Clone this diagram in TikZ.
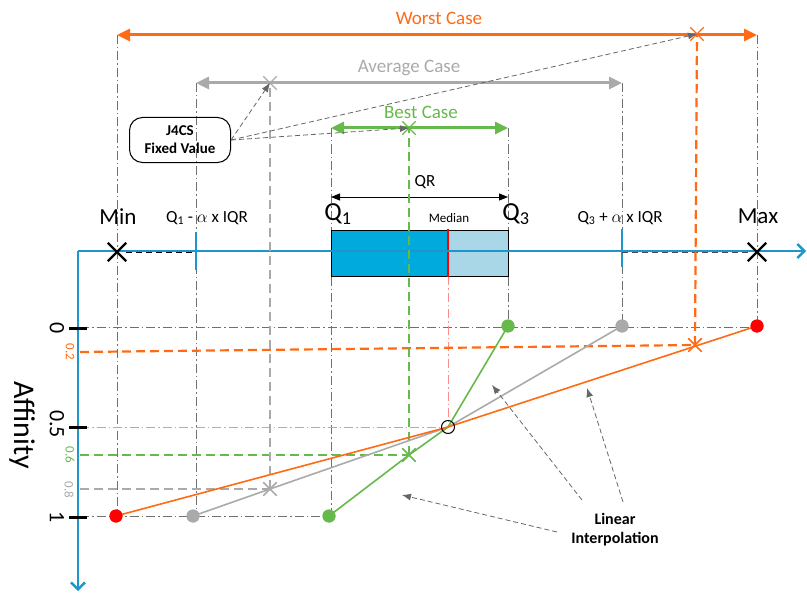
\documentclass[tikz,border=0pt]{standalone}
\usepackage{fontspec}
\setmainfont{Carlito}
\usetikzlibrary{arrows.meta,shapes.misc}
\definecolor{axblue}{HTML}{1E96CC}
\definecolor{boxdark}{HTML}{00AADD}
\definecolor{boxlight}{HTML}{A9D7E8}
\definecolor{worstc}{HTML}{FF6A13}
\definecolor{avgc}{HTML}{AAAAAA}
\definecolor{bestc}{HTML}{66B94A}
\definecolor{gridc}{HTML}{707070}
\newcommand{\fs}[1]{\fontsize{#1}{#1}\selectfont}
\begin{document}
\begin{tikzpicture}[x=1pt,y=-1pt,
  gridline/.style={gridc, line width=0.8pt, dash pattern=on 9pt off 3pt on 1.5pt off 3pt},
  redgrid/.style={red!45, line width=0.8pt, dash pattern=on 9pt off 3pt on 1.5pt off 3pt},
  casearrow/.style={line width=3pt, {Triangle[length=13pt,width=12pt]}-{Triangle[length=13pt,width=12pt]}},
  proj/.style={line width=2.2pt, dash pattern=on 9pt off 5pt},
  xmark/.style={cross out, draw, minimum size=12pt, inner sep=0pt, line width=1.3pt},
  bigx/.style={cross out, draw=black, minimum size=16pt, inner sep=0pt, line width=2.4pt},
  dot/.style={circle, inner sep=0pt, minimum size=13pt},
  interp/.style={line width=1.6pt},
  note/.style={gray!80!black, line width=0.8pt, dash pattern=on 5pt off 3pt, -{Latex[length=9pt,width=7pt]}},
  axis/.style={axblue, line width=2.4pt},
  tickm/.style={black, line width=3pt}
]
\useasboundingbox (0,0) rectangle (807,594);

% ---- key coordinates
\coordinate (wL) at (117,35);  \coordinate (wR) at (757,35);
\coordinate (aL) at (196,83);  \coordinate (aR) at (622,83);
\coordinate (bL) at (331,128); \coordinate (bR) at (508,128);
\coordinate (origin) at (78,251);
\coordinate (xend) at (806,251);
\coordinate (yend) at (78,591);

% ---- grid (dash-dot)
\coordinate (g0L) at (80,327); \coordinate (g1L) at (80,516); \coordinate (g5L) at (80,427);
\draw[gridline] (wL) -- (117,516);
\draw[gridline] (aL) -- (196,516);
\draw[gridline] (bL) -- (331,516);
\draw[gridline] (bR) -- (508,327);
\draw[gridline] (aR) -- (622,327);
\draw[gridline] (wR) -- (757,327);
\draw[gridline] (g0L) -- (757,327);
\draw[gridline] (g1L) -- (331,516);
\draw[redgrid] (g5L) -- (448,427);
\draw[redgrid] (448,276) -- (448,427);

% ---- box plot
\fill[boxdark] (331,230) rectangle (448,276);
\fill[boxlight] (448,230) rectangle (508,276);
\draw[black, line width=0.8pt] (331,230) rectangle (508,276);
\draw[red, line width=2pt] (448,229) -- (448,277);

% ---- axes
\draw[axis, -{Straight Barb[length=7pt,width=14pt]}] (origin) -- (xend);
\draw[axis, -{Straight Barb[length=7pt,width=14pt]}] (origin) -- (yend);
\draw[axblue, line width=2pt] (196,232) -- (196,270);
\draw[axblue, line width=2pt] (622,229) -- (622,267);

% ---- min / max markers
\node[bigx] (minx) at (117,252) {};
\node[bigx] (maxx) at (757,252) {};
\coordinate (loT) at (196,252); \coordinate (hiT) at (622,252);
\draw[black, line width=1pt, dash pattern=on 6pt off 4pt] (minx) -- (loT);
\draw[black!70, line width=1pt, dash pattern=on 6pt off 4pt] (hiT) -- (maxx);

% ---- top case arrows
\draw[worstc, casearrow] (wL) -- (wR);
\draw[avgc, casearrow] (aL) -- (aR);
\draw[bestc, casearrow] (bL) -- (bR);
\draw[black, line width=0.9pt, {Triangle[length=9pt,width=7pt]}-{Triangle[length=9pt,width=7pt]}] (331,197) -- (508,197);

% ---- crosses
\node[xmark, draw=worstc] (wX) at (697,34) {};
\node[xmark, draw=avgc] (aX) at (270,83) {};
\node[xmark, draw=bestc] (bX) at (409,128) {};
\node[xmark, draw=worstc] (wX2) at (695,345) {};
\node[xmark, draw=bestc] (bX2) at (409,455) {};
\node[xmark, draw=avgc] (aX2) at (270,489) {};

% ---- projections (dashed)
\coordinate (w2L) at (80,352); \coordinate (b2L) at (80,455); \coordinate (a2L) at (80,489);
\draw[worstc, proj] (w2L) -- (wX2.center);
\draw[worstc, proj] (wX2.center) -- (wX.center);
\draw[bestc, proj] (b2L) -- (bX2.center);
\draw[bestc, proj] (bX2.center) -- (bX.center);
\draw[avgc, proj] (a2L) -- (aX2.center);
\draw[avgc, proj] (aX2.center) -- (aX.center);

% ---- interpolation lines and points
\node[dot, fill=red] (wd1) at (116,516) {};
\node[dot, fill=red] (wd2) at (757,326) {};
\node[dot, fill=avgc] (ad1) at (193,516) {};
\node[dot, fill=avgc] (ad2) at (622,326) {};
\node[dot, fill=bestc] (bd1) at (329,516) {};
\node[dot, fill=bestc] (bd2) at (508,326) {};
\coordinate (mid) at (448,427);
\draw[avgc, interp] (ad1.center) -- (aX2.center) -- (mid) -- (ad2.center);
\draw[bestc, interp] (bd1.center) -- (bX2.center) -- (mid) -- (bd2.center);
\draw[worstc, interp] (wd1.center) -- (mid) -- (wd2.center);
\node[dot, fill=red] at (116,516) {};
\node[dot, fill=red] at (757,326) {};
\node[dot, fill=avgc] at (193,516) {};
\node[dot, fill=avgc] at (622,326) {};
\node[dot, fill=bestc] at (329,516) {};
\node[dot, fill=bestc] at (508,326) {};
\node[circle, draw=black, line width=1pt, minimum size=13pt, inner sep=0pt] (midc) at (mid) {};
\node[xmark, draw=worstc] at (695,345) {};
\node[xmark, draw=bestc] at (409,455) {};
\node[xmark, draw=avgc] at (270,489) {};

% ---- affinity axis ticks and labels
\draw[tickm] (69,328) -- (87,328);
\draw[tickm] (69,427) -- (87,427);
\draw[tickm] (69,517) -- (87,517);
\node[rotate=-90, font=\fs{22}] (l0) at (57,328) {0};
\node[rotate=-90, font=\fs{22}] (l5) at (57,424) {0.5};
\node[rotate=-90, font=\fs{22}] (l1) at (57,517) {1};
\node[rotate=-90, font=\fs{13}, text=worstc] (l2) at (70,352) {0.2};
\node[rotate=-90, font=\fs{13}, text=bestc] (l6) at (70,455) {0.6};
\node[rotate=-90, font=\fs{13}, text=avgc] (l8) at (69,490) {0.8};
\node[rotate=-90, font=\fs{30}] (aff) at (22,425) {Affinity};

% ---- labels
\node[font=\fs{19}, text=worstc] (wt) at (439,18) {Worst Case};
\node[font=\fs{19}, text=avgc] (at) at (409,68) {Average Case};
\node[font=\fs{19}, text=bestc] (bt) at (421,112) {Best Case};
\node[font=\fs{17}] (qr) at (425,182) {QR};
\node[font=\fs{23}] (minl) at (118,217) {Min};
\node[font=\fs{23}] (maxl) at (758,216) {Max};
\node[font=\fs{17}] (lol) at (207,218) {Q\textsubscript{1} - $\alpha$ x IQR};
\node[font=\fs{17}] (hil) at (620,218) {Q\textsubscript{3} + $\alpha$ x IQR};
\node[font=\fs{26}] (q1l) at (338,214) {Q\textsubscript{1}};
\node[font=\fs{26}] (q3l) at (516,214) {Q\textsubscript{3}};
\node[font=\fs{13}] (medl) at (449,218) {Median};

% ---- J4CS box
\node[draw=black, line width=1pt, rounded corners=13pt, minimum width=101pt, minimum height=45pt,
      align=center, font=\bfseries\fs{15}, inner sep=2pt] (j4) at (180,140) {J4CS\\[3pt]Fixed Value};
\draw[note] (j4.east) -- (aX.center);
\draw[note] (j4.east) -- (wX.center);
\draw[note] (j4.east) -- (bX.center);

% ---- linear interpolation note
\node[align=center, font=\bfseries\fs{16}] (li) at (615,530) {Linear\\[3pt]Interpolation};
\coordinate (t1) at (402,495); \coordinate (t2) at (492,385); \coordinate (t3) at (587,388);
\coordinate (s1) at (557,532); \coordinate (s2) at (582,500); \coordinate (s3) at (623,502);
\draw[note] (s1) -- (t1);
\draw[note] (s2) -- (t2);
\draw[note] (s3) -- (t3);
\end{tikzpicture}
\end{document}
